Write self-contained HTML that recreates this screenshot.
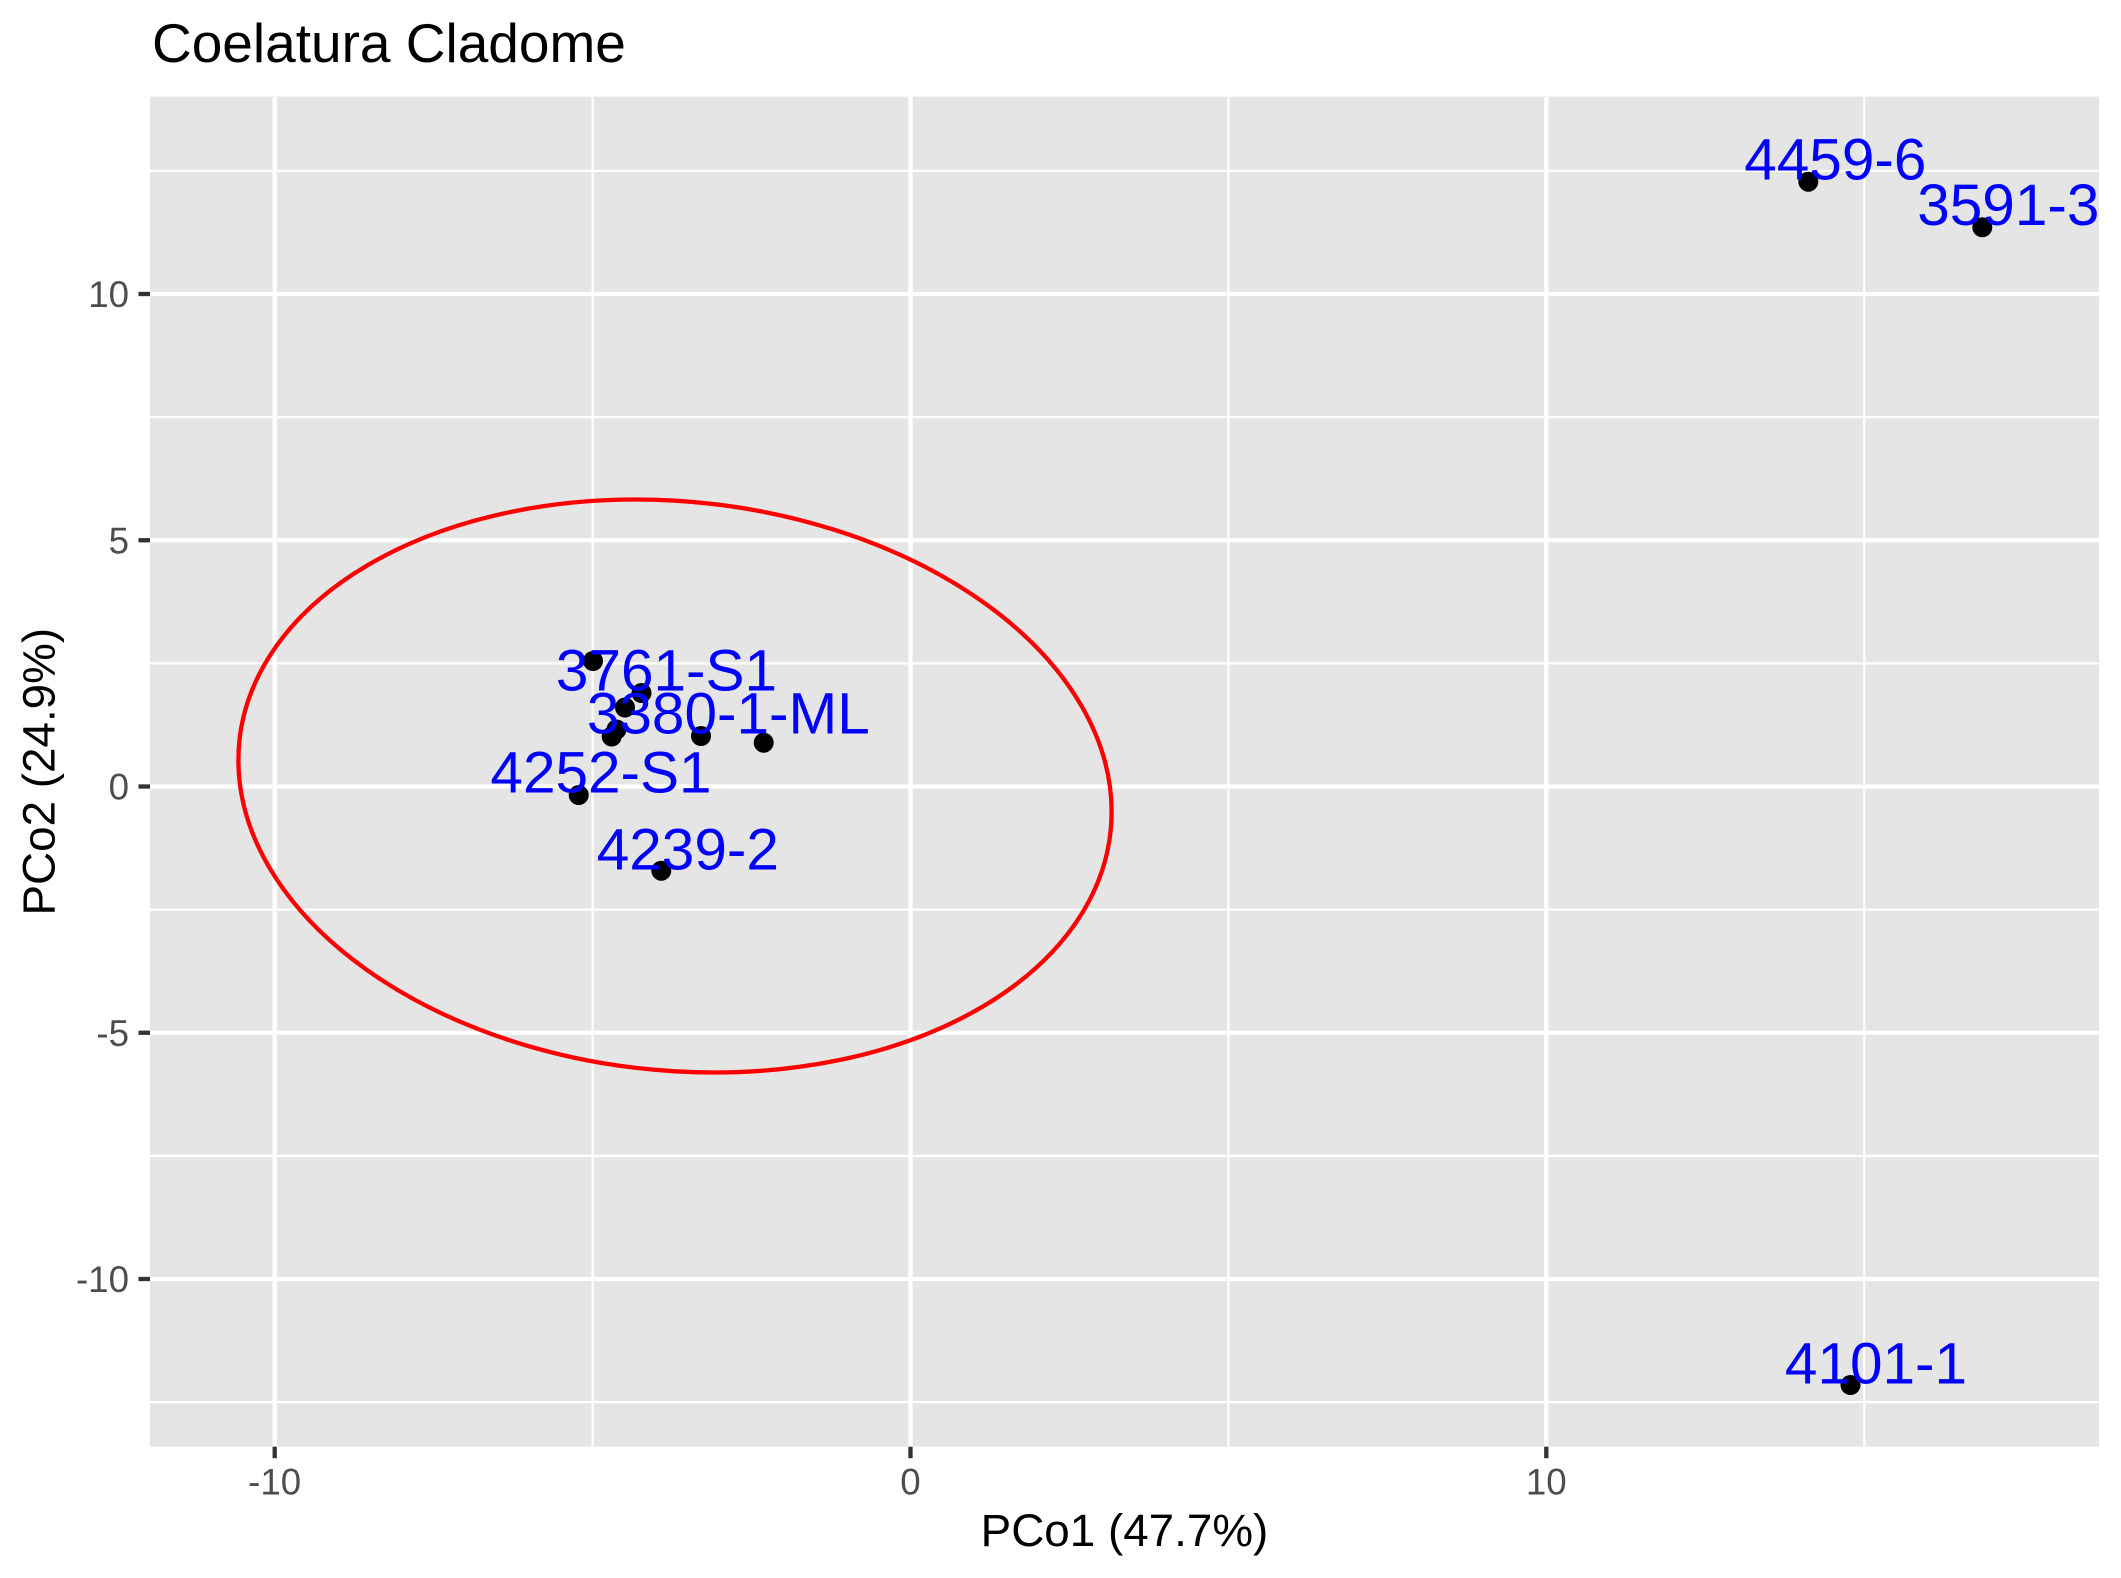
<!DOCTYPE html>
<html><head><meta charset="utf-8"><style>
html,body{margin:0;padding:0;background:#fff;}
svg{display:block;font-family:"Liberation Sans",Arial,sans-serif;}
</style></head><body>
<svg width="2121" height="1578" viewBox="0 0 2121 1578" xmlns="http://www.w3.org/2000/svg">
<defs><clipPath id="pc"><rect x="150" y="96.7" width="1949" height="1350"/></clipPath></defs>
<rect x="0" y="0" width="2121" height="1578" fill="#fff"/>
<text x="152" y="62" font-size="55" fill="#000">Coelatura Cladome</text>
<rect x="150" y="96.7" width="1949" height="1350" fill="#E5E5E5"/>
<g clip-path="url(#pc)">
<g stroke="#fff" stroke-width="2.2">
<line x1="150" x2="2099" y1="170.9" y2="170.9"/>
<line x1="150" x2="2099" y1="417.1" y2="417.1"/>
<line x1="150" x2="2099" y1="663.4" y2="663.4"/>
<line x1="150" x2="2099" y1="909.6" y2="909.6"/>
<line x1="150" x2="2099" y1="1155.9" y2="1155.9"/>
<line x1="150" x2="2099" y1="1402.1" y2="1402.1"/>
<line y1="96.7" y2="1446.7" x1="592.6" x2="592.6"/>
<line y1="96.7" y2="1446.7" x1="1228.4" x2="1228.4"/>
<line y1="96.7" y2="1446.7" x1="1864.2" x2="1864.2"/>
</g>
<g stroke="#fff" stroke-width="4.3">
<line x1="150" x2="2099" y1="294" y2="294"/>
<line x1="150" x2="2099" y1="540.25" y2="540.25"/>
<line x1="150" x2="2099" y1="786.5" y2="786.5"/>
<line x1="150" x2="2099" y1="1032.75" y2="1032.75"/>
<line x1="150" x2="2099" y1="1279" y2="1279"/>
<line y1="96.7" y2="1446.7" x1="274.7" x2="274.7"/>
<line y1="96.7" y2="1446.7" x1="910.5" x2="910.5"/>
<line y1="96.7" y2="1446.7" x1="1546.3" x2="1546.3"/>
</g>
<circle r="1" cx="0" cy="0" fill="none" stroke="#FF0000" stroke-width="4.3" vector-effect="non-scaling-stroke" transform="matrix(436.6 25.8 0 285.3 675 786)"/>
<g fill="#000">
<circle cx="593" cy="661" r="10"/>
<circle cx="641.5" cy="693" r="10"/>
<circle cx="625" cy="707.5" r="10"/>
<circle cx="611.7" cy="736.5" r="10"/>
<circle cx="616.5" cy="729.5" r="10"/>
<circle cx="701" cy="736" r="10"/>
<circle cx="763.7" cy="742.7" r="10"/>
<circle cx="578.7" cy="795" r="10"/>
<circle cx="661.3" cy="870.7" r="10"/>
<circle cx="1808.3" cy="181.7" r="10"/>
<circle cx="1982.3" cy="227.3" r="10"/>
<circle cx="1850.5" cy="1385" r="10"/>
</g>
<g fill="#0000FF" font-size="58.5" text-anchor="middle">
<text x="666.5" y="690.7">3761-S1</text>
<text x="728.3" y="733.3">3380-1-ML</text>
<text x="601" y="792.6">4252-S1</text>
<text x="687.8" y="869.3">4239-2</text>
<text x="1835.3" y="179.3">4459-6</text>
<text x="2008.3" y="224.8">3591-3</text>
<text x="1876" y="1383.3">4101-1</text>
</g>
</g>
<g stroke="#333" stroke-width="4.3">
<line x1="138.5" x2="150" y1="294" y2="294"/>
<line x1="138.5" x2="150" y1="540.25" y2="540.25"/>
<line x1="138.5" x2="150" y1="786.5" y2="786.5"/>
<line x1="138.5" x2="150" y1="1032.75" y2="1032.75"/>
<line x1="138.5" x2="150" y1="1279" y2="1279"/>
<line y1="1446.7" y2="1458.2" x1="274.7" x2="274.7"/>
<line y1="1446.7" y2="1458.2" x1="910.5" x2="910.5"/>
<line y1="1446.7" y2="1458.2" x1="1546.3" x2="1546.3"/>
</g>
<g fill="#4D4D4D" font-size="36.7" text-anchor="end">
<text x="129" y="307.2">10</text>
<text x="129" y="553.4">5</text>
<text x="129" y="799.7">0</text>
<text x="129" y="1045.9">-5</text>
<text x="129" y="1292.2">-10</text>
</g>
<g fill="#4D4D4D" font-size="36.7" text-anchor="middle">
<text x="274.7" y="1494.5">-10</text>
<text x="910.5" y="1494.5">0</text>
<text x="1546.3" y="1494.5">10</text>
</g>
<text x="1124.5" y="1546.2" font-size="45.8" text-anchor="middle" fill="#000">PCo1 (47.7%)</text>
<text x="0" y="0" font-size="45.8" text-anchor="middle" fill="#000" transform="translate(54.5 771.7) rotate(-90)">PCo2 (24.9%)</text>
</svg>
</body></html>
